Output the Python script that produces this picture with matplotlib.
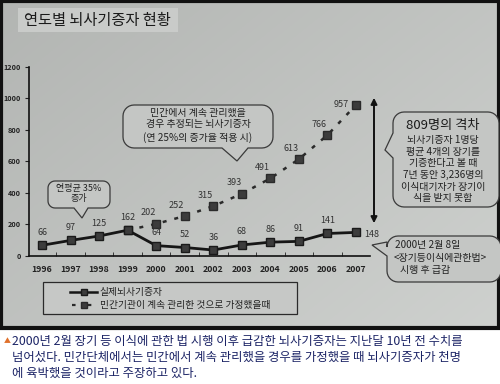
import numpy as np
import matplotlib
matplotlib.use("Agg")
import matplotlib.pyplot as plt
from matplotlib.patches import Polygon, Rectangle

plt.rcParams['font.family'] = ['Noto Sans CJK KR', 'DejaVu Sans']

# data
years = [1996, 1997, 1998, 1999, 2000, 2001, 2002, 2003, 2004, 2005, 2006, 2007]
actual = [66, 97, 125, 162, 64, 52, 36, 68, 86, 91, 141, 148]
est_years = [1999, 2000, 2001, 2002, 2003, 2004, 2005, 2006, 2007]
estimated = [162, 202, 252, 315, 393, 491, 613, 766, 957]
yticks = [0, 200, 400, 600, 800, 1000, 1200]

title = "연도별 뇌사기증자 현황"
legend_labels = ["실제뇌사기증자", "민간기관이 계속 관리한 것으로 가정했을때"]
caption = ["2000년 2월 장기 등 이식에 관한 법 시행 이후 급감한 뇌사기증자는 지난달 10년 전 수치를",
           "넘어섰다. 민간단체에서는 민간에서 계속 관리했을 경우를 가정했을 때 뇌사기증자가 천명",
           "에 육박했을 것이라고 주장하고 있다."]

W, H = 500, 384
fig = plt.figure(figsize=(W / 100, H / 100), dpi=100)
fig.patch.set_facecolor("white")

# background axes in pixel coords (y down)
bg = fig.add_axes([0, 0, 1, 1], zorder=0)
bg.set_xlim(0, W)
bg.set_ylim(H, 0)
bg.axis("off")

# photo background with a soft gradient
gx = np.linspace(0, 1, 200)
gy = np.linspace(0, 1, 160)
GX, GY = np.meshgrid(gx, gy)
grad = 0.55 * GX + 0.45 * GY
c0 = np.array([0.70, 0.71, 0.70])
c1 = np.array([0.81, 0.82, 0.81])
img = c0[None, None, :] + (c1 - c0)[None, None, :] * grad[:, :, None]
bg.imshow(img, extent=[0, W, 329, 0], aspect="auto", zorder=0)
bg.add_patch(Rectangle((1, 1), W - 2, 327, fill=False, ec="#111111", lw=3, zorder=1))

# title box
bg.add_patch(Rectangle((18, 8), 160, 24, fc="#c9cbc9", ec="none", zorder=2))
bg.text(24, 21, title, fontsize=11, color="#1a1a1a", va="center", ha="left", zorder=3)

# caption
bg.text(4, 341, "▲", fontsize=5, color="#e0702a", va="center", ha="left")
for i, line in enumerate(caption):
    bg.text(12, 342 + i * 15.5, line, fontsize=8.9, color="#1c2466", va="center", ha="left")

# data axes placed over the photo
x_left, x_right = 29, 370
y_top, y_bot = 66.7, 255.7
step = (356 - 42) / 11
ax = fig.add_axes([x_left / W, (H - y_bot) / H, (x_right - x_left) / W, (y_bot - y_top) / H], zorder=2)
ax.patch.set_alpha(0)
ax.set_xlim(1996 - (42 - x_left) / step, 2007 + (x_right - 356) / step)
ax.set_ylim(0, 1200)
for s in ["top", "right"]:
    ax.spines[s].set_visible(False)
for s in ["left", "bottom"]:
    ax.spines[s].set_color("#111111")
    ax.spines[s].set_linewidth(1.2)
ax.set_xticks(years)
ax.set_xticklabels([str(y) for y in years], fontsize=6.3, fontweight="bold", color="#222222")
ax.set_xticks([y + 0.5 for y in years[:-1]], minor=True)
ax.tick_params(axis="x", which="major", length=0, pad=7)
ax.tick_params(axis="x", which="minor", length=3, direction="in", color="#222222")
ax.set_yticks(yticks)
ax.set_yticklabels([str(v) for v in yticks], fontsize=5.2, fontweight="bold", color="#222222")
ax.tick_params(axis="y", length=3, direction="out", color="#222222", pad=3)

ax.plot(est_years, estimated, color="#2a2a2a", lw=1.8, linestyle=(0, (1.6, 3.2)),
        marker="s", ms=5.5, mfc="#3c3c3c", mec="#2a2a2a", zorder=3)
ax.plot(years, actual, color="#161616", lw=2, marker="s", ms=6, mfc="#3c3c3c", mec="#1a1a1a", zorder=4)

px = 72 / 100
for y, v in zip(years, actual):
    if y == 2007:
        ax.annotate(str(v), (y, v), xytext=(16 * px, -2 * px), textcoords="offset points",
                    ha="center", va="center", fontsize=6.5, color="#333333")
    else:
        ax.annotate(str(v), (y, v), xytext=(0, 13 * px), textcoords="offset points",
                    ha="center", va="center", fontsize=6.5, color="#333333")
for y, v in zip(est_years[1:], estimated[1:]):
    dx = -15 if y == 2007 else -8
    dy = 0 if y == 2007 else 11
    ax.annotate(str(v), (y, v), xytext=(dx * px, dy * px), textcoords="offset points",
                ha="center", va="center", fontsize=6.5, color="#333333")

# overlay axes for callouts, arrow and legend
ov = fig.add_axes([0, 0, 1, 1], zorder=3)
ov.set_xlim(0, W)
ov.set_ylim(H, 0)
ov.axis("off")
ov.patch.set_alpha(0)


def callout(x0, y0, x1, y1, r, side, b0, b1, tip):
    pts = []

    def arc(cx, cy, a0, a1):
        for a in np.linspace(np.radians(a0), np.radians(a1), 8):
            pts.append((cx + r * np.cos(a), cy + r * np.sin(a)))

    arc(x1 - r, y0 + r, -90, 0)
    arc(x1 - r, y1 - r, 0, 90)
    if side == "bottom":
        pts += [(b1, y1), tip, (b0, y1)]
    arc(x0 + r, y1 - r, 90, 180)
    if side == "left":
        pts += [(x0, b1), tip, (x0, b0)]
    arc(x0 + r, y0 + r, 180, 270)
    ov.add_patch(Polygon(pts, closed=True, fc="#c4c6c4", ec="#3a3a3a", lw=0.9, zorder=2))


fs = 7.2
callout(48, 181, 110, 208, 7, "bottom", 74, 88, (82, 218))
ov.text(79, 188, "연평균 35%", fontsize=6.5, ha="center", va="center", color="#222222", zorder=3)
ov.text(79, 199, "증가", fontsize=6.5, ha="center", va="center", color="#222222", zorder=3)

callout(123, 105, 273, 148, 11, "bottom", 222, 248, (237, 161))
ov.text(198, 113, "민간에서 계속 관리했을", fontsize=fs, ha="center", va="center", color="#222222", zorder=3)
ov.text(198, 124, "경우 추정되는 뇌사기증자", fontsize=fs, ha="center", va="center", color="#222222", zorder=3)
ov.text(198, 138, "(연 25%의 증가율 적용 시)", fontsize=fs, ha="center", va="center", color="#222222", zorder=3)

callout(393, 112, 499, 207, 11, "left", 133, 158, (385, 150))
ov.text(443, 125, "809명의 격차", fontsize=9.5, ha="center", va="center", color="#1a1a1a", zorder=3)
right_lines = ["뇌사기증자 1명당", "평균 4개의 장기를", "기증한다고 볼 때",
               "7년 동안 3,236명의", "이식대기자가 장기이", "식을 받지 못함"]
for i, t in enumerate(right_lines):
    ov.text(443, 140 + i * 11.7, t, fontsize=fs, ha="center", va="center", color="#222222", zorder=3)

callout(387, 236, 501, 282, 11, "left", 242, 256, (372, 245))
ov.text(395, 245, "2000년 2월 8일", fontsize=fs, ha="left", va="center", color="#222222", zorder=3)
ov.text(394, 258, "<장기등이식에관한법>", fontsize=fs, ha="left", va="center", color="#222222", zorder=3)
ov.text(400, 270, "시행 후 급감", fontsize=fs, ha="left", va="center", color="#222222", zorder=3)

# double arrow for the gap
ov.annotate("", xy=(374, 95), xytext=(374, 226),
            arrowprops=dict(arrowstyle="<|-|>", color="#111111", lw=1.4, mutation_scale=9), zorder=3)

# legend box
ov.add_patch(Rectangle((43, 282), 254, 32, fc="#c6c8c6", ec="#2a2a2a", lw=0.9, zorder=2))
ov.plot([70, 97], [292, 292], color="#161616", lw=1.8, zorder=3)
ov.plot([84], [292], marker="s", ms=5, mfc="#3c3c3c", mec="#1a1a1a", zorder=4)
ov.plot([72, 97], [305, 305], color="#2a2a2a", lw=1.6, linestyle=(0, (1.6, 5.5)), zorder=3)
ov.plot([84], [305], marker="s", ms=5, mfc="#3c3c3c", mec="#2a2a2a", zorder=4)
ov.text(99, 292, legend_labels[0], fontsize=7, ha="left", va="center", color="#222222", zorder=3)
ov.text(100, 305, legend_labels[1], fontsize=7, ha="left", va="center", color="#222222", zorder=3)

fig.savefig("out.png", dpi=100)
